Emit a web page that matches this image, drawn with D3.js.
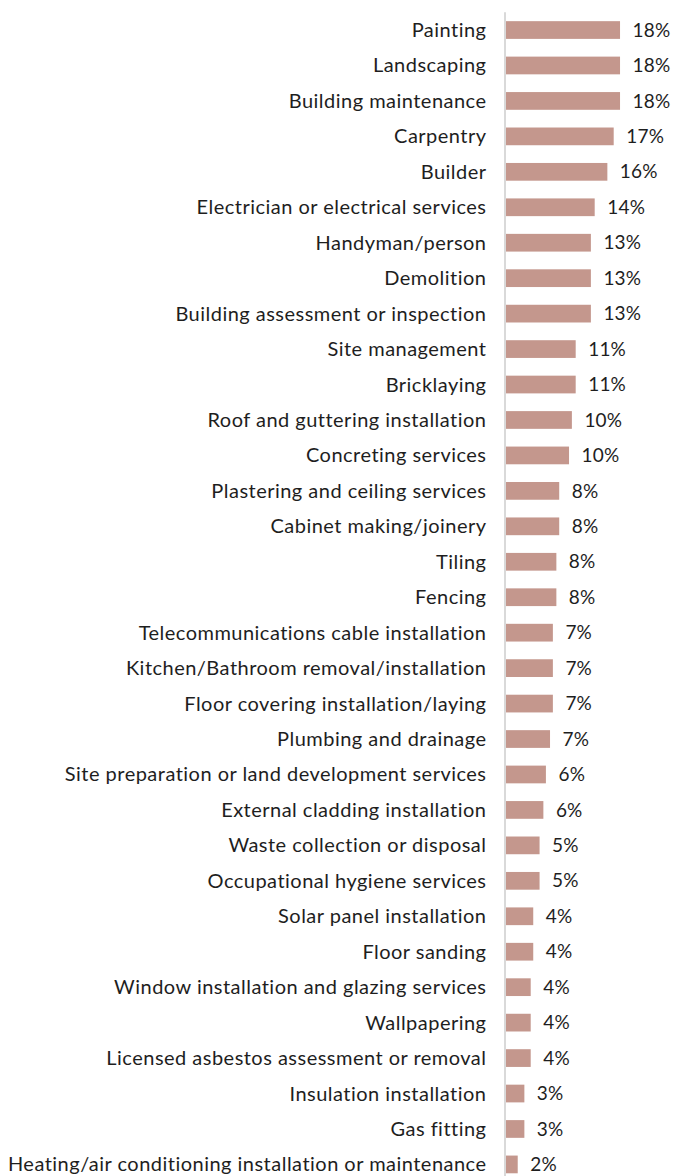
<!DOCTYPE html>
<html>
<head>
<meta charset="utf-8">
<script src="https://cdn.jsdelivr.net/npm/d3@7"></script>
<style>
  html, body { margin: 0; padding: 0; background: #fff; }
  svg { display: block; }
</style>
</head>
<body>
<svg id="chart" width="675" height="1176"></svg>
<script>
// Share of businesses offering each trade service (%)
const categories = [
  "Painting",
  "Landscaping",
  "Building maintenance",
  "Carpentry",
  "Builder",
  "Electrician or electrical services",
  "Handyman/person",
  "Demolition",
  "Building assessment or inspection",
  "Site management",
  "Bricklaying",
  "Roof and guttering installation",
  "Concreting services",
  "Plastering and ceiling services",
  "Cabinet making/joinery",
  "Tiling",
  "Fencing",
  "Telecommunications cable installation",
  "Kitchen/Bathroom removal/installation",
  "Floor covering installation/laying",
  "Plumbing and drainage",
  "Site preparation or land development services",
  "External cladding installation",
  "Waste collection or disposal",
  "Occupational hygiene services",
  "Solar panel installation",
  "Floor sanding",
  "Window installation and glazing services",
  "Wallpapering",
  "Licensed asbestos assessment or removal",
  "Insulation installation",
  "Gas fitting",
  "Heating/air conditioning installation or maintenance"
];

const shares = [
  18.0, 18.0, 18.0, 17.0, 16.0, 14.0, 13.4, 13.4, 13.4, 11.0,
  11.0, 10.4, 9.95, 8.4, 8.4, 7.95, 7.95, 7.4, 7.4, 7.4,
  6.95, 6.3, 5.9, 5.3, 5.3, 4.3, 4.3, 3.9, 3.9, 3.9,
  2.9, 2.9, 1.85
];

const data = categories.map((c, i) => ({ category: c, value: shares[i] }));

const svg = d3.select("#chart");
const axisX = 505;
const barX = 506;

const x = d3.scaleLinear()
  .domain([0, 20])
  .range([barX, barX + 126.7]);

const y = d3.scaleBand()
  .domain(categories)
  .range([12.3, 12.3 + 35.45 * categories.length])
  .paddingInner(0.5)
  .paddingOuter(0.25);

const fmt = v => d3.format(".0f")(v) + "%";
const font = "Lato, 'Open Sans', sans-serif";

// bars
svg.append("g")
  .selectAll("rect")
  .data(data)
  .join("rect")
  .attr("x", x(0))
  .attr("y", d => y(d.category))
  .attr("width", d => x(d.value) - x(0))
  .attr("height", y.bandwidth())
  .attr("fill", "#c4978d");

// category axis line
svg.append("line")
  .attr("x1", axisX).attr("x2", axisX)
  .attr("y1", y.range()[0]).attr("y2", y.range()[1])
  .attr("stroke", "#d9d9d9")
  .attr("stroke-width", 2);

// category labels
svg.append("g")
  .selectAll("text")
  .data(data)
  .join("text")
  .attr("x", 486.5)
  .attr("y", d => y(d.category) + y.bandwidth() / 2)
  .attr("dy", "0.35em")
  .attr("text-anchor", "end")
  .attr("font-family", font)
  .attr("font-size", 20)
  .attr("letter-spacing", 0.48)
  .attr("fill", "#1e1e1e")
  .text(d => d.category);

// value labels
svg.append("g")
  .selectAll("text")
  .data(data)
  .join("text")
  .attr("x", d => x(d.value) + 12.5)
  .attr("y", d => y(d.category) + y.bandwidth() / 2)
  .attr("dy", "0.35em")
  .attr("font-family", font)
  .attr("font-size", 19)
  .attr("letter-spacing", 0.2)
  .attr("fill", "#1e1e1e")
  .text(d => fmt(d.value));
</script>
</body>
</html>
